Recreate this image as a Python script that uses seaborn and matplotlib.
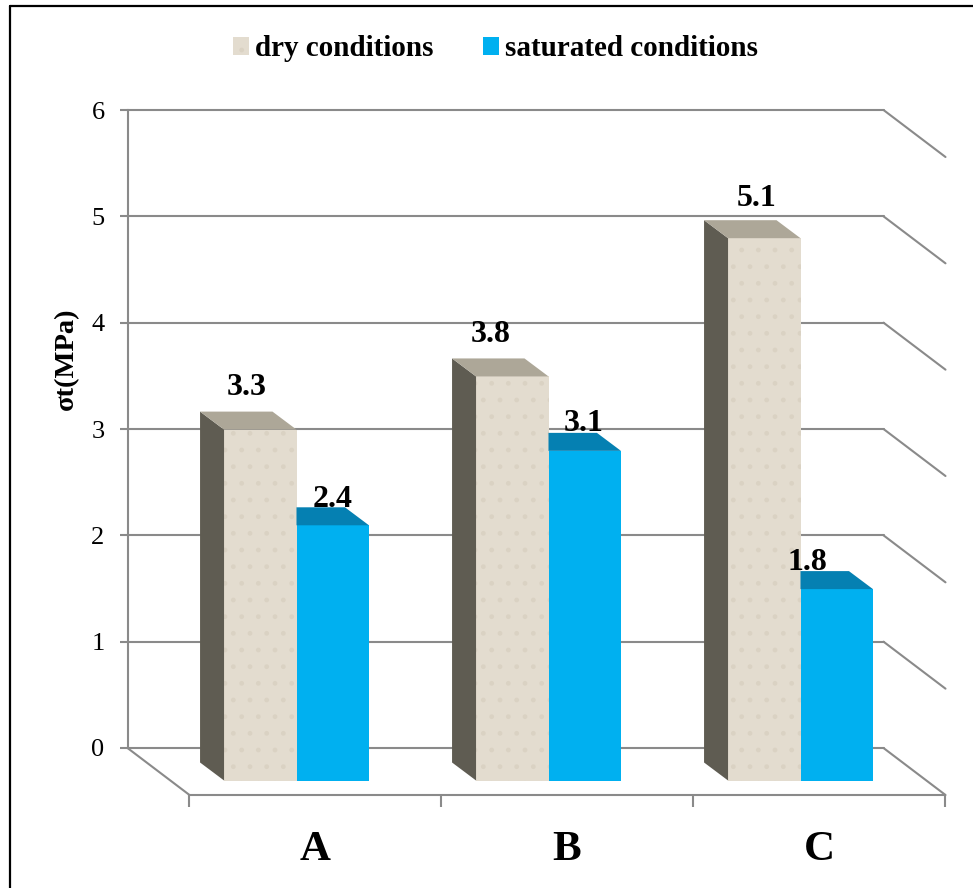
import matplotlib
matplotlib.use("Agg")
import matplotlib.pyplot as plt
from matplotlib.lines import Line2D
from matplotlib.patches import Polygon
import pandas as pd
import seaborn as sns

categories = ["A", "B", "C"]
dry_values = [3.3, 3.8, 5.1]
saturated_values = [2.4, 3.1, 1.8]
series_names = ["dry conditions", "saturated conditions"]
y_ticks = [0, 1, 2, 3, 4, 5, 6]

W, H = 973, 888
UNIT_PX = 638 / 6
CAT_PX = 252
GRID = "#8a8a8a"
DRY, DRY_SIDE, DRY_TOP = "#E3DCCF", "#5F5C52", "#ADA798"
SAT, SAT_TOP = "#00B0F0", "#0580B2"

sns.set_theme(style="white")
plt.rcParams["font.family"] = ["Liberation Serif", "DejaVu Serif"]


def axes_box(left, right, bottom, top):
    return [left / W, 1 - bottom / H, (right - left) / W, (bottom - top) / H]


fig = plt.figure(figsize=(W / 100, H / 100), dpi=100, facecolor="white")

# back wall with value scale and grid
wall = fig.add_axes(axes_box(127.5, 883.5, 748, 110))
wall.set_xlim(0, 3)
wall.set_ylim(0, 6)
wall.set_xticks([])
wall.set_yticks(y_ticks)
wall.tick_params(axis="y", length=5.5, width=1.5, color=GRID, pad=11, labelsize=19, left=True)
for s in ["top", "right", "bottom"]:
    wall.spines[s].set_visible(False)
wall.spines["left"].set_color(GRID)
wall.spines["left"].set_linewidth(1.5)
wall.grid(axis="y", color=GRID, lw=1.5)
for gl in wall.get_ygridlines():
    gl.set_clip_on(False)
wall.set_axisbelow(True)
wall.set_ylabel("σt(MPa)", fontsize=20.5, fontweight="bold", labelpad=9, color="black", y=0.61)
for lab in wall.get_yticklabels():
    lab.set_color("black")

# receding lines at the right side of the wall and the left floor edge
run_x, run_y = 62 / CAT_PX, 47 / UNIT_PX
for v in y_ticks:
    wall.plot([3, 3 + run_x], [v, v - run_y], color=GRID, lw=1.5, clip_on=False)
wall.plot([0, run_x], [0, -run_y], color=GRID, lw=1.5, clip_on=False)

# front floor edge with category labels
front = fig.add_axes(axes_box(189, 945, 795, 785))
front.patch.set_visible(False)
front.set_xlim(-0.5, 2.5)
front.set_yticks([])
front.set_xticks([-0.5, 0.5, 1.5, 2.5])
front.set_xticklabels([])
front.set_xticks([0, 1, 2], labels=categories, minor=True)
front.tick_params(axis="x", which="major", length=8.5, width=1.5, color=GRID, bottom=True)
front.tick_params(axis="x", which="minor", length=0, pad=26, labelsize=31, bottom=False)
for lab in front.get_xticklabels(minor=True):
    lab.set_fontweight("bold")
    lab.set_color("black")
for s in ["top", "left", "right"]:
    front.spines[s].set_visible(False)
front.spines["bottom"].set_color(GRID)
front.spines["bottom"].set_linewidth(1.5)

# bars in their own plane
ax = fig.add_axes(axes_box(170.5, 926.5, 780.5, 142.5))
ax.patch.set_visible(False)
df = pd.DataFrame({
    "category": categories * 2,
    "value": dry_values + saturated_values,
    "series": [series_names[0]] * 3 + [series_names[1]] * 3,
})
sns.barplot(data=df, x="category", y="value", hue="series", hue_order=series_names,
            palette=[DRY, SAT], saturation=1, width=0.575, gap=0, errorbar=None,
            legend=False, ax=ax)
ax.set_xlim(-0.5, 2.5)
ax.set_ylim(0, 6)
ax.axis("off")

depth_x, depth_y = 24 / CAT_PX, 18 / UNIT_PX
dry_bars, sat_bars = ax.containers[0], ax.containers[1]
for bar in dry_bars:
    bar.set_zorder(3)
    bar.set_hatch(".")
    bar.set_edgecolor("#DAD2C3")
    bar.set_linewidth(0)
    x, w, h = bar.get_x(), bar.get_width(), bar.get_height()
    ax.add_patch(Polygon([(x, 0), (x - depth_x, depth_y), (x - depth_x, h + depth_y), (x, h)],
                         closed=True, fc=DRY_SIDE, ec="none", zorder=3))
    ax.add_patch(Polygon([(x, h), (x + w, h), (x + w - depth_x, h + depth_y), (x - depth_x, h + depth_y)],
                         closed=True, fc=DRY_TOP, ec="none", zorder=3))
for bar in sat_bars:
    bar.set_linewidth(0)
    bar.set_zorder(5)
    x, w, h = bar.get_x(), bar.get_width(), bar.get_height()
    # the part of the top face behind the dry bar is hidden, so it starts at the bar's left edge
    ax.add_patch(Polygon([(x, h), (x + w, h), (x + w - depth_x, h + depth_y), (x, h + depth_y)],
                         closed=True, fc=SAT_TOP, ec="none", zorder=5))

# value labels: pixel shift from the centre of each bar's front top edge
dry_shift = [(-14, 35), (-22, 34), (-8, 32)]
sat_shift = [(0, 18), (-1, 20), (-29, 19)]
for bars, shifts in ((dry_bars, dry_shift), (sat_bars, sat_shift)):
    for bar, (sx, sy) in zip(bars, shifts):
        ax.annotate(f"{bar.get_height():.1f}",
                    (bar.get_x() + bar.get_width() / 2, bar.get_height()),
                    xytext=(sx * 0.72, sy * 0.72), textcoords="offset points",
                    ha="center", va="baseline", fontsize=23, fontweight="bold",
                    color="black", zorder=4)

fig.legend(handles=[dry_bars[0], sat_bars[0]], labels=series_names, ncol=2, frameon=False,
           loc="center", bbox_to_anchor=(495.5 / W, 1 - 49 / H),
           prop={"size": 21, "weight": "bold"}, handlelength=0.55, handleheight=0.55,
           handletextpad=0.2, columnspacing=1.72, labelcolor="black")

# outer frame: only the top and left edges show
fig.add_artist(Line2D([10 / W, 10 / W], [0, 1 - 6.5 / H], color="black", lw=1.6))
fig.add_artist(Line2D([10 / W, 1], [1 - 6.5 / H, 1 - 6.5 / H], color="black", lw=1.6))

fig.savefig("out.png", dpi=100, facecolor="white")
